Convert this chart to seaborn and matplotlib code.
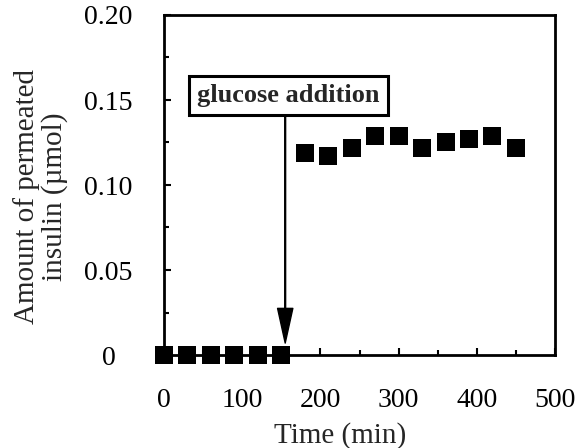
import matplotlib
matplotlib.use("Agg")
import matplotlib.pyplot as plt
import seaborn as sns
import pandas as pd
from matplotlib.ticker import MultipleLocator

time_min = [0, 30, 60, 90, 120, 150, 180, 210, 240, 270, 300, 330, 360, 390, 420, 450]
insulin_umol = [0, 0, 0, 0, 0, 0, 0.119, 0.117, 0.122, 0.129, 0.129, 0.122, 0.125, 0.127, 0.129, 0.122]
x_ticks = [0, 100, 200, 300, 400, 500]
y_ticks = [0, 0.05, 0.10, 0.15, 0.20]
y_tick_labels = ["0", "0.05", "0.10", "0.15", "0.20"]
annotation_text = "glucose addition"
glucose_time = 155

sns.set_theme(style="ticks")
plt.rcParams["font.family"] = ["Liberation Serif", "DejaVu Serif"]

df = pd.DataFrame({"time": time_min, "insulin": insulin_umol})

fig = plt.figure(figsize=(5.88, 4.48), dpi=100)
ax = fig.add_axes([164/588, 1-355/448, (555-164)/588, (355-15)/448])

sns.scatterplot(data=df, x="time", y="insulin", marker="s", s=160, color="black",
                edgecolor="black", linewidth=0, ax=ax, clip_on=False, zorder=5)

ax.set_xlim(0, 500)
ax.set_ylim(0, 0.20)
ax.set_xticks(x_ticks)
ax.set_yticks(y_ticks)
ax.set_yticklabels(y_tick_labels)
ax.xaxis.set_minor_locator(MultipleLocator(50))
ax.yaxis.set_minor_locator(MultipleLocator(0.025))
ax.tick_params(which="both", direction="in", width=1.5, labelsize=20, colors="black")
ax.tick_params(which="major", length=5)
ax.tick_params(which="minor", length=3.5)
ax.tick_params(axis="x", which="major", pad=24)
ax.tick_params(axis="y", which="major", pad=40)
for lab in ax.get_yticklabels():
    lab.set_horizontalalignment("center")
for s in ax.spines.values():
    s.set_linewidth(2)
    s.set_color("black")

ax.set_xlabel("Time (min)", fontsize=21)
ax.xaxis.set_label_coords(0.45, -0.198)
ax.set_ylabel("Amount of permeated\ninsulin (\u00b5mol)", fontsize=21, linespacing=1.05)
ax.yaxis.set_label_coords(-0.245, 0.465)

ax.annotate("", xy=(glucose_time, 0.007), xytext=(glucose_time, 0.140),
            arrowprops=dict(facecolor="black", edgecolor="black", width=0.6,
                            headwidth=11, headlength=25, shrink=0))
ax.text(159, 0.1525, annotation_text, ha="center", va="center", fontsize=19,
        fontweight="bold",
        bbox=dict(boxstyle="square,pad=0.3", facecolor="white", edgecolor="black", linewidth=2.2))

fig.savefig("out.png", dpi=100)
